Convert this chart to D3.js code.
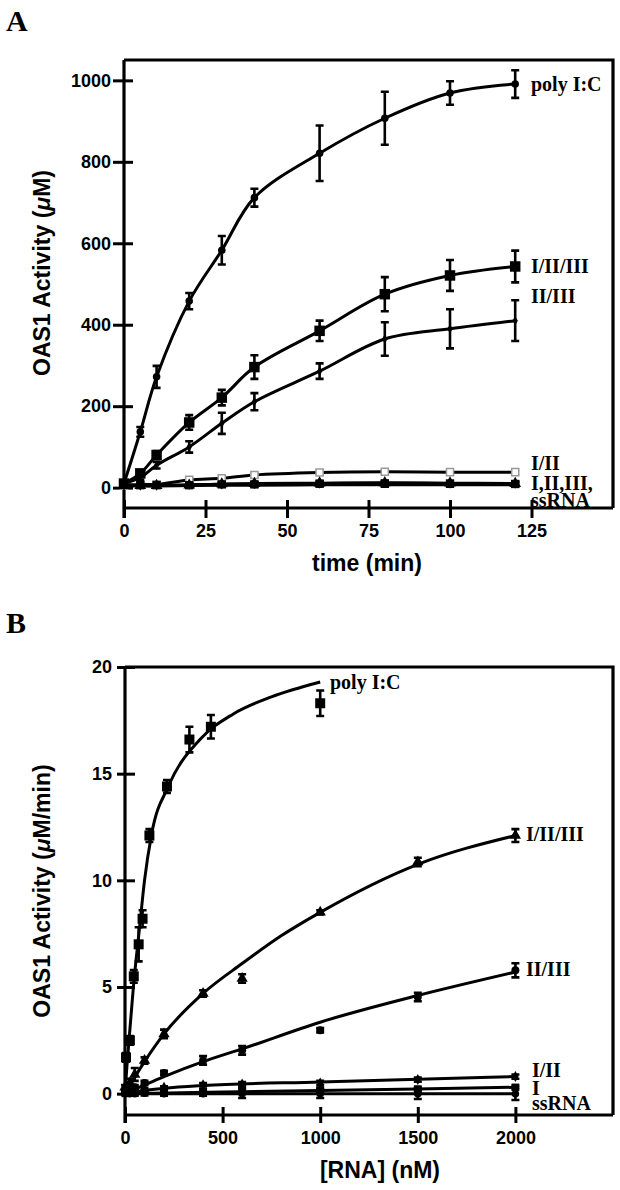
<!DOCTYPE html>
<html><head><meta charset="utf-8">
<script src="https://cdn.jsdelivr.net/npm/d3@7"></script>
<style>
html,body{margin:0;padding:0;background:#fff;}
svg{display:block;}
.tick text{font-family:"Liberation Sans",Arial,sans-serif;font-weight:bold;font-size:18px;fill:#000;}
.domain{display:none;}
.tick line{stroke:#000;stroke-width:3;}
.lbl{font-family:"Liberation Serif","Times New Roman",serif;font-weight:bold;font-size:20px;fill:#000;}
.ttl{font-family:"Liberation Sans",Arial,sans-serif;font-weight:bold;font-size:23px;fill:#000;}
.panel{font-family:"Liberation Serif","Times New Roman",serif;font-weight:bold;font-size:30px;fill:#000;}
</style>
</head><body>
<script>
// ---------- Panel A data ----------
const timeA = [0,5,10,20,30,40,60,80,100,120];
const polyIC_A = [10,137,272,458,583,712,821,907,969,991];
const polyIC_A_err = [5,12,27,20,35,22,68,65,29,34];
const i_ii_iii_A = [10,35,80,160,221,296,385,475,521,543];
const i_ii_iii_A_err = [5,8,10,18,19,29,25,42,38,39];
const ii_iii_A = [10,25,55,100,158,211,286,365,390,410];
const ii_iii_A_err = [5,6,8,14,26,21,19,41,48,50];
const i_ii_A = [5,8,8,19,23,31,37,39,38,38];
const i_A = [6,5,5,6,9,10,11,12,11,10];
const ii_A = [8,6,6,6,8,8,10,10,10,9];
const iii_A = [5,5,5,7,8,9,10,11,10,10];
const ssRNA_A = [4,4,4,5,6,6,7,7,7,7];
const lowErrA = [3,3,3,4,4,4,4,5,5,5];
const xTicksA = [0,25,50,75,100,125];
const yTicksA = [0,200,400,600,800,1000];

// ---------- Panel B data ----------
const concPolyIC = [5,25,45,70,90,125,215,330,440,1000];
const polyIC_B = [1.7,2.5,5.5,7.0,8.2,12.1,14.4,16.6,17.2,18.3];
const polyIC_B_err = [0.2,0.2,0.3,0.8,0.4,0.3,0.3,0.6,0.55,0.6];
const polyIC_fitX = [0,10,25,43,77,100,137,222,384,555,750,1000];
const polyIC_fitY = [0,1.3,3.0,5.0,8.0,10.0,12.2,14.4,16.6,17.8,18.6,19.3];

const concB = [0,25,50,100,200,400,600,1000,1500,2000];
const i_ii_iii_B = [0.3,0.5,0.9,1.55,2.8,4.7,5.4,8.5,10.86,12.1];
const i_ii_iii_B_err = [0.1,0.2,0.3,0.15,0.2,0.15,0.2,0.1,0.2,0.3];
const i_ii_iii_fitX = [0,100,200,400,600,800,1000,1500,2000];
const i_ii_iii_fitY = [0,1.5,2.8,4.7,6.1,7.4,8.5,10.75,12.1];

const ii_iii_B = [0.1,0.2,0.3,0.5,0.97,1.56,2.03,2.97,4.53,5.78];
const ii_iii_B_err = [0.1,0.1,0.1,0.1,0.1,0.2,0.2,0.1,0.2,0.33];
const ii_iii_fitX = [0,200,400,600,1000,1500,2000];
const ii_iii_fitY = [0,0.8,1.5,2.1,3.35,4.6,5.7];

const i_ii_B = [0.05,0.1,0.15,0.2,0.3,0.42,0.45,0.5,0.66,0.8];
const i_ii_fitX = [0,100,200,400,1000,2000];
const i_ii_fitY = [0,0.15,0.25,0.38,0.55,0.8];

const i_B = [0,0.05,0.05,0.08,0.1,0.12,0.15,0.18,0.22,0.3];
const i_fitX = [0,1000,2000];
const i_fitY = [0,0.15,0.3];

const ssRNA_B = [0.05,0,0,0.02,0,0,0,0,0,0];
const ssRNA_B_err = [0.1,0.1,0.1,0.1,0.1,0.1,0.2,0.2,0.25,0.3];
const ssRNA_fitX = [0,2000];
const ssRNA_fitY = [0,0];
const lowErrB = [0.05,0.05,0.05,0.05,0.05,0.08,0.1,0.1,0.1,0.1];
const xTicksB = [0,500,1000,1500,2000];
const yTicksB = [0,5,10,15,20];

// ---------- drawing ----------
const W = 620, H = 1190;
const svg = d3.select("body").append("svg").attr("width", W).attr("height", H);

function symbolPath(type, size){
  return d3.symbol().type(type).size(size)();
}

function drawPanel(cfg){
  const g = svg.append("g");
  const x = d3.scaleLinear().domain(cfg.xDomain).range([cfg.left, cfg.right]);
  const y = d3.scaleLinear().domain(cfg.yDomain).range([cfg.bottom, cfg.top]);

  g.append("path")
    .attr("d", `M${cfg.left},${cfg.top}H${cfg.right}V${cfg.bottom}`)
    .attr("fill","none").attr("stroke","#000").attr("stroke-width",3.2);
  g.append("line").attr("x1",cfg.left).attr("x2",cfg.left)
    .attr("y1",cfg.top).attr("y2",cfg.bottom+cfg.xOut)
    .attr("stroke","#000").attr("stroke-width",3.2);
  g.append("line").attr("x1",cfg.left).attr("x2",cfg.right)
    .attr("y1",cfg.bottom).attr("y2",cfg.bottom)
    .attr("stroke","#000").attr("stroke-width",3.2);

  const ya = g.append("g").attr("transform",`translate(${cfg.left},0)`)
    .call(d3.axisLeft(y).tickValues(cfg.yTicks).tickSize(cfg.yOut).tickPadding(cfg.yPad).tickFormat(d3.format("d")));
  ya.selectAll(".tick line").attr("x1", cfg.yIn).attr("x2", -cfg.yOut);
  const xa = g.append("g").attr("transform",`translate(0,${cfg.bottom})`)
    .call(d3.axisBottom(x).tickValues(cfg.xTicks).tickSize(cfg.xOut).tickPadding(cfg.xPad).tickFormat(d3.format("d")));
  xa.selectAll(".tick line").attr("y1", -cfg.xIn).attr("y2", cfg.xOut);

  const line = d3.line().curve(cfg.curve).x(d=>x(d[0])).y(d=>y(d[1]));

  cfg.series.forEach(s=>{
    const pts = s.xs.map((xv,i)=>[xv, s.ys[i], s.err ? s.err[i] : 0]);
    const cpts = s.fitX ? s.fitX.map((xv,i)=>[xv, s.fitY[i]]) : pts.map(p=>[p[0],p[1]]);
    g.append("path").datum(cpts).attr("d", line)
      .attr("fill","none").attr("stroke", s.lineColor||"#000").attr("stroke-width", 3);
    const eb = g.append("g").attr("stroke", s.errColor||"#000").attr("stroke-width", 2.6).attr("fill","none");
    pts.forEach(p=>{
      if(!p[2]) return;
      const cx = x(p[0]), y1 = y(p[1]-p[2]), y2 = y(p[1]+p[2]);
      eb.append("path").attr("d",`M${cx},${y1}V${y2}M${cx-4},${y1}H${cx+4}M${cx-4},${y2}H${cx+4}`);
    });
    g.append("g").selectAll("path.m").data(pts).join("path")
      .attr("transform", p=>`translate(${x(p[0])},${y(p[1])})`)
      .attr("d", symbolPath(s.symbol, s.size))
      .attr("fill", s.fill||"#000").attr("stroke", s.stroke||"none").attr("stroke-width", 1.5);
  });

  cfg.labels.forEach(l=>{
    g.append("text").attr("class","lbl").attr("x", l.x).attr("y", l.y).text(l.t);
  });
  return {x,y};
}

// Panel A
drawPanel({
  left:124, right:613, top:60, bottom:508,
  xDomain:[0,150], yDomain:[-50,1050],
  xTicks:xTicksA, yTicks:yTicksA,
  yOut:11, yIn:9, yPad:2, xOut:10, xIn:8, xPad:6,
  curve: d3.curveCatmullRom.alpha(0.5),
  series:[
    {xs:timeA, ys:i_ii_A, err:lowErrA, symbol:d3.symbolSquare, size:50, fill:"#fff", stroke:"#999", lineColor:"#000", errColor:"#999"},
    {xs:timeA, ys:ssRNA_A, err:lowErrA, symbol:d3.symbolCircle, size:30},
    {xs:timeA, ys:iii_A, err:lowErrA, symbol:d3.symbolDiamond, size:30},
    {xs:timeA, ys:ii_A, err:lowErrA, symbol:d3.symbolSquare, size:70},
    {xs:timeA, ys:i_A, err:lowErrA, symbol:d3.symbolTriangle, size:60},
    {xs:timeA, ys:ii_iii_A, err:ii_iii_A_err, symbol:d3.symbolDiamond, size:25},
    {xs:timeA, ys:i_ii_iii_A, err:i_ii_iii_A_err, symbol:d3.symbolSquare, size:110},
    {xs:timeA, ys:polyIC_A, err:polyIC_A_err, symbol:d3.symbolCircle, size:45}
  ],
  labels:[
    {x:531, y:91, t:"poly I:C"},
    {x:531, y:273, t:"I/II/III"},
    {x:531, y:303, t:"II/III"},
    {x:531, y:470, t:"I/II"},
    {x:531, y:490, t:"I,II,III,"},
    {x:531, y:507, t:"ssRNA"}
  ]
});

// Panel B
drawPanel({
  left:125, right:613, top:667, bottom:1115,
  xDomain:[0,2500], yDomain:[-1,20],
  xTicks:xTicksB, yTicks:yTicksB,
  yOut:8, yIn:10, yPad:5, xOut:8, xIn:8, xPad:8,
  curve: d3.curveMonotoneX,
  series:[
    {xs:concB, ys:ssRNA_B, err:ssRNA_B_err, fitX:ssRNA_fitX, fitY:ssRNA_fitY, symbol:d3.symbolCircle, size:45},
    {xs:concB, ys:i_B, err:lowErrB, fitX:i_fitX, fitY:i_fitY, symbol:d3.symbolSquare, size:50},
    {xs:concB, ys:i_ii_B, err:lowErrB, fitX:i_ii_fitX, fitY:i_ii_fitY, symbol:d3.symbolDiamond, size:35},
    {xs:concB, ys:ii_iii_B, err:ii_iii_B_err, fitX:ii_iii_fitX, fitY:ii_iii_fitY, symbol:d3.symbolCircle, size:50},
    {xs:concB, ys:i_ii_iii_B, err:i_ii_iii_B_err, fitX:i_ii_iii_fitX, fitY:i_ii_iii_fitY, symbol:d3.symbolTriangle, size:55},
    {xs:concPolyIC, ys:polyIC_B, err:polyIC_B_err, fitX:polyIC_fitX, fitY:polyIC_fitY, symbol:d3.symbolSquare, size:100}
  ],
  labels:[
    {x:330, y:689, t:"poly I:C"},
    {x:526, y:841, t:"I/II/III"},
    {x:526, y:976, t:"II/III"},
    {x:532, y:1077, t:"I/II"},
    {x:532, y:1095, t:"I"},
    {x:532, y:1110, t:"ssRNA"}
  ]
});

svg.append("text").attr("class","panel").attr("x",6).attr("y",31).text("A");
svg.append("text").attr("class","panel").attr("x",6).attr("y",633).text("B");

function yTitle(cx, cy, unit){
  const t = svg.append("text").attr("class","ttl").attr("text-anchor","middle")
    .attr("transform",`translate(${cx},${cy}) rotate(-90)`);
  t.append("tspan").text("OAS1 Activity (");
  t.append("tspan").attr("font-style","italic").text("\u03bc");
  t.append("tspan").text(unit + ")");
}
yTitle(50, 273, "M");
yTitle(50, 891, "M/min");
svg.append("text").attr("class","ttl").attr("text-anchor","middle").attr("x",367).attr("y",571).text("time (min)");
svg.append("text").attr("class","ttl").attr("text-anchor","middle").attr("x",380).attr("y",1178).text("[RNA] (nM)");
</script>
</body></html>
